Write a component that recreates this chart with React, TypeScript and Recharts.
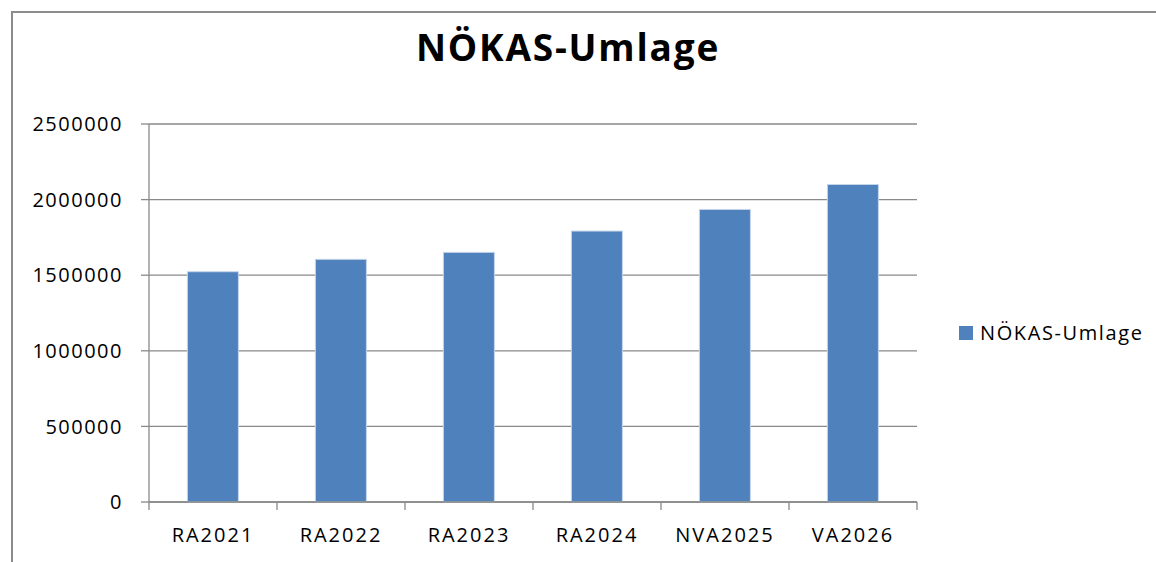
import React from 'react';
import { BarChart, Bar, XAxis, YAxis, CartesianGrid, Legend } from 'recharts';

const categories = ['RA2021', 'RA2022', 'RA2023', 'RA2024', 'NVA2025', 'VA2026'];
const umlageValues = [1523000, 1605000, 1651000, 1792000, 1935000, 2100000];
const yTicks = [0, 500000, 1000000, 1500000, 2000000, 2500000];
const seriesName = 'NÖKAS-Umlage';
const titleText = 'NÖKAS-Umlage';

const data = categories.map((name, i) => ({ name, value: umlageValues[i] }));

const FONT = '"Open Sans", sans-serif';
const GRID = '#898989';

const LegendContent = (props: any) => {
  const items = props.payload || [];
  return (
    <div style={{ fontFamily: FONT }}>
      {items.map((it: any) => (
        <div key={it.value} style={{ display: 'flex', alignItems: 'center' }}>
          <span style={{ display: 'inline-block', width: 14, height: 14, background: it.color, marginRight: 7 }} />
          <span style={{ fontSize: 20, color: '#000', letterSpacing: 1.6 }}>{it.value}</span>
        </div>
      ))}
    </div>
  );
};

const XTick = (props: any) => {
  const { x, y, payload, index, visibleTicksCount, width } = props;
  const band = Number(width) / Number(visibleTicksCount);
  const axisY = y - 26;
  const left = x - band / 2;
  const right = x + band / 2;
  return (
    <g>
      {Number.isFinite(band) && (
        <line x1={left} x2={left} y1={axisY} y2={axisY + 8} stroke={GRID} strokeWidth={1.3} />
      )}
      {Number.isFinite(band) && index === visibleTicksCount - 1 && (
        <line x1={right} x2={right} y1={axisY} y2={axisY + 8} stroke={GRID} strokeWidth={1.3} />
      )}
      <text x={x} y={y} dy="0.71em" textAnchor="middle" fill="#000" fontSize={20} fontFamily={FONT} letterSpacing={2}>
        {payload.value}
      </text>
    </g>
  );
};

export default function App() {
  return (
    <div style={{ position: 'absolute', left: 0, top: 0, width: 1156, height: 562, overflow: 'hidden', background: '#fff' }}>
      <div style={{ position: 'absolute', left: 11, top: 11, width: 1300, height: 800, borderLeft: '2px solid #8c8c8c', borderTop: '2px solid #8c8c8c' }} />
      <div style={{ position: 'absolute', left: 0, top: 21, width: 1136, textAlign: 'center', fontFamily: FONT, fontWeight: 700, fontSize: 37, color: '#000', letterSpacing: 1.8 }}>
        {titleText}
      </div>
      <div style={{ position: 'absolute', left: 0, top: 0 }}>
        <BarChart width={1156} height={562} data={data} margin={{ top: 124, right: 239, bottom: 30, left: 19 }} barCategoryGap="30%">
          <CartesianGrid horizontal={true} vertical={false} stroke={GRID} strokeWidth={1.3} />
          <XAxis
            dataKey="name"
            tickLine={false}
            tickSize={0}
            tickMargin={26}
            height={30}
            axisLine={{ stroke: GRID, strokeWidth: 1.3 }}
            tick={<XTick />}
            interval={0}
          />
          <YAxis
            width={130}
            domain={[0, 2500000]}
            ticks={yTicks}
            tickSize={8}
            tickMargin={18}
            axisLine={{ stroke: GRID, strokeWidth: 1.3 }}
            tickLine={{ stroke: GRID, strokeWidth: 1.3 }}
            tick={{ fill: '#000', fontSize: 20, fontFamily: FONT, letterSpacing: 1.5 }}
          />
          <Legend
            layout="horizontal"
            verticalAlign="middle"
            align="center"
            content={<LegendContent />}
            wrapperStyle={{ left: 959, top: 319, width: 200 }}
          />
          <Bar dataKey="value" name={seriesName} fill="#4F81BD" stroke="#C6D5EA" strokeWidth={1} isAnimationActive={false} />
        </BarChart>
      </div>
    </div>
  );
}
